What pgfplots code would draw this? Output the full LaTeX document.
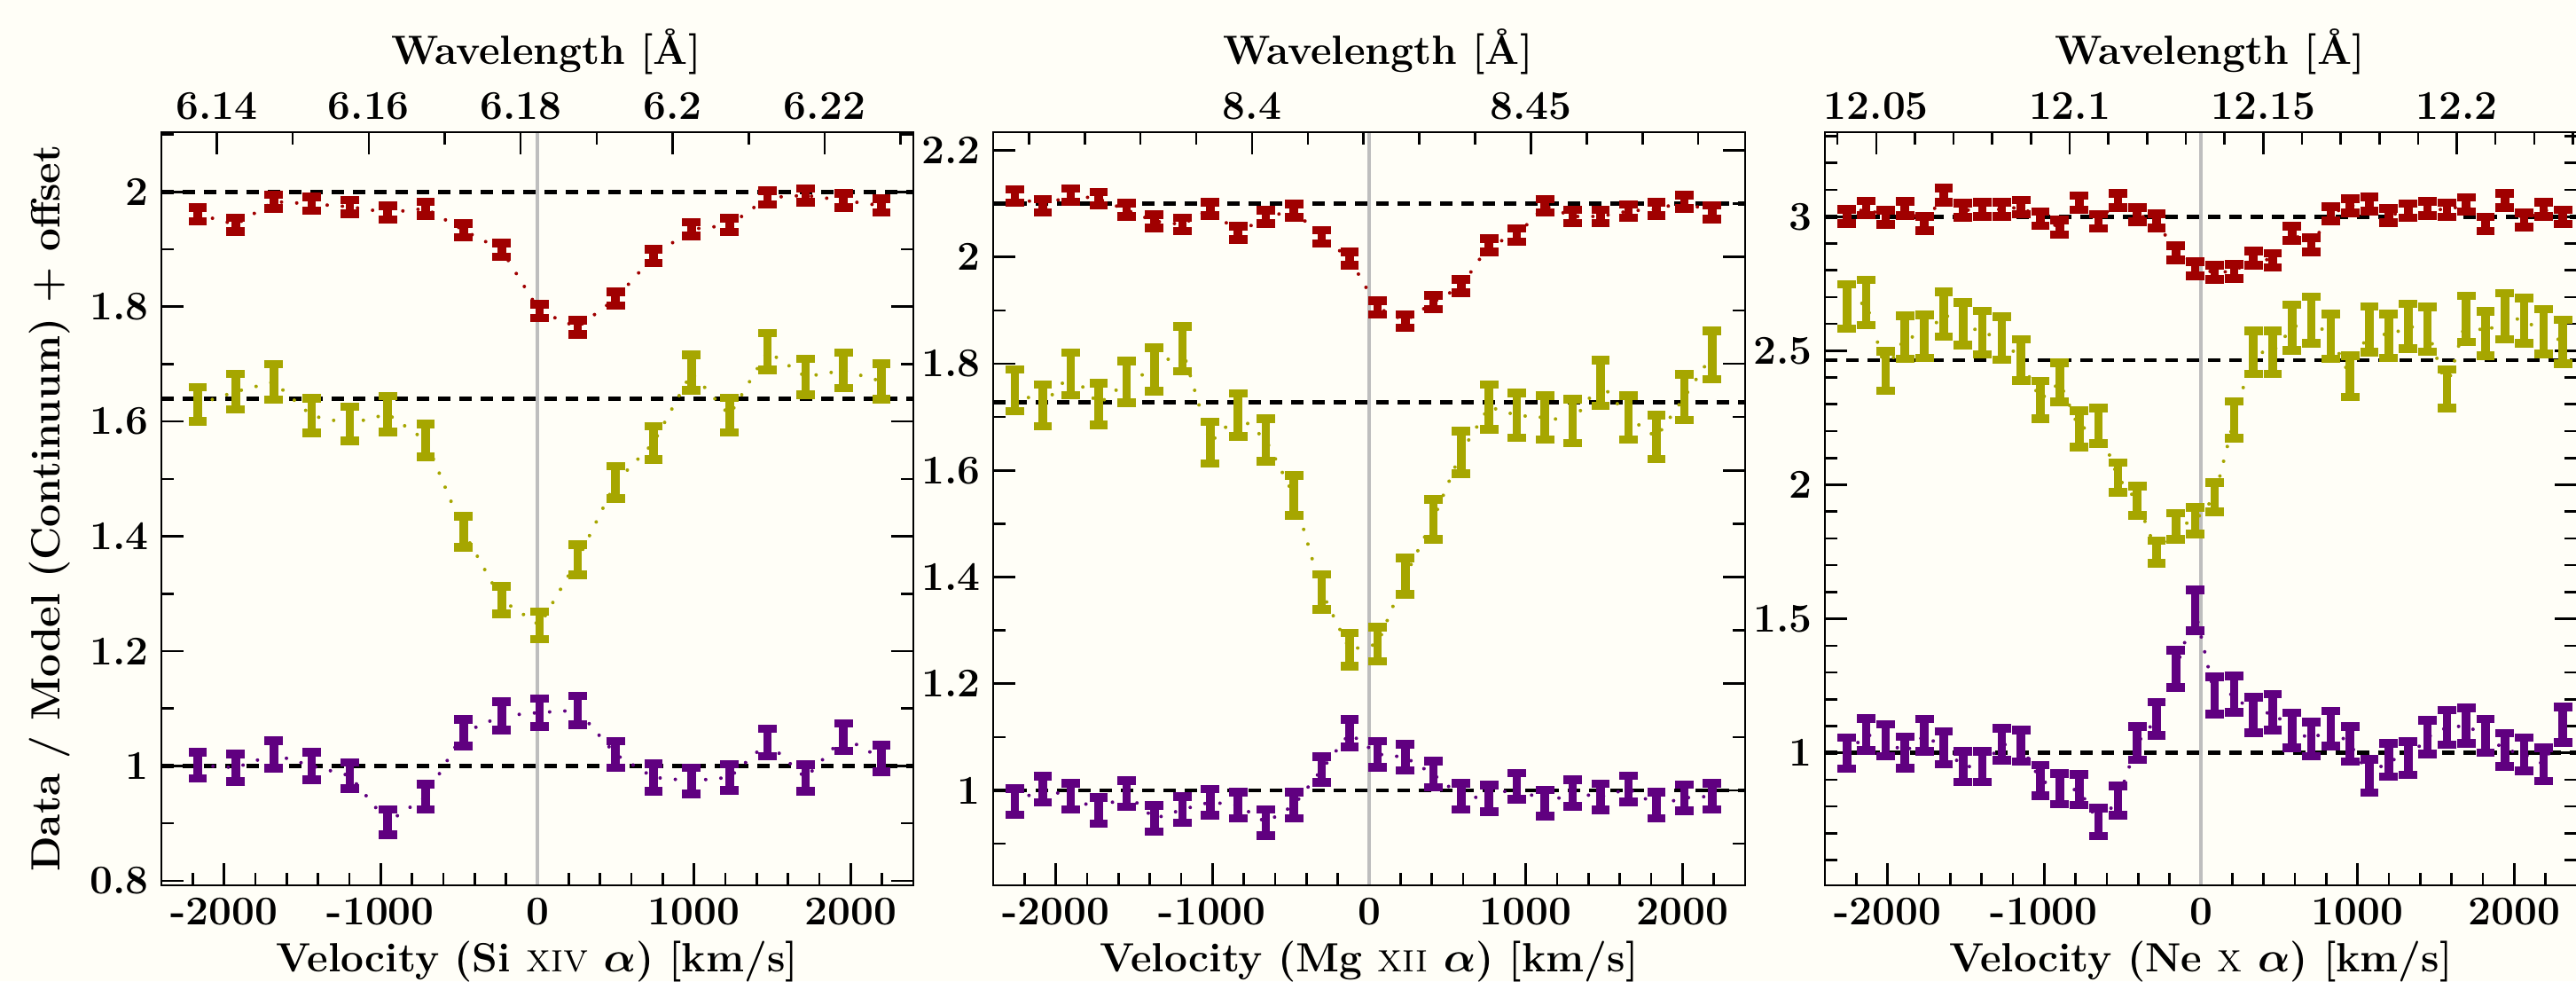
\documentclass[border=0pt]{standalone}
\usepackage{pgfplots}
\pgfplotsset{compat=1.18}
\usepackage{pgfplotstable}
\definecolor{cR}{RGB}{160,0,0}
\definecolor{cO}{RGB}{166,166,0}
\definecolor{cP}{RGB}{96,0,128}
\definecolor{bg}{RGB}{255,254,247}
\definecolor{zl}{RGB}{190,190,190}
\newcommand\lbl{\fontsize{11.5}{13.5}\selectfont\bfseries}

\pgfplotstableread{
v r er o eo p ep
-2167.6 1.961 0.012 1.630 0.030 1.001 0.023
-1925.2 1.943 0.012 1.652 0.031 0.997 0.024
-1682.7 1.983 0.012 1.669 0.031 1.020 0.024
-1440.3 1.979 0.012 1.610 0.030 1.000 0.024
-1197.8 1.974 0.012 1.596 0.030 0.983 0.023
-955.3 1.964 0.012 1.613 0.031 0.902 0.022
-712.9 1.971 0.012 1.567 0.029 0.946 0.022
-470.4 1.933 0.012 1.408 0.027 1.058 0.023
-228.0 1.899 0.012 1.289 0.024 1.087 0.025
14.5 1.792 0.012 1.245 0.024 1.093 0.024
257.0 1.764 0.012 1.359 0.026 1.097 0.025
499.4 1.814 0.012 1.494 0.028 1.020 0.023
741.9 1.888 0.012 1.563 0.029 0.980 0.024
984.3 1.935 0.012 1.685 0.031 0.974 0.023
1226.8 1.942 0.012 1.611 0.030 0.980 0.023
1469.3 1.990 0.012 1.722 0.032 1.041 0.024
1711.7 1.994 0.012 1.678 0.031 0.979 0.023
1954.2 1.985 0.012 1.689 0.031 1.050 0.024
2196.6 1.976 0.012 1.670 0.031 1.013 0.023
}\tA

\pgfplotstableread{
v r er o eo p ep
-2260.6 2.114 0.0125 1.750 0.039 0.979 0.0245
-2082.6 2.096 0.0125 1.722 0.039 1.002 0.0245
-1904.6 2.116 0.0125 1.781 0.040 0.989 0.0245
-1726.6 2.109 0.0125 1.724 0.039 0.962 0.0245
-1548.6 2.088 0.0125 1.766 0.039 0.994 0.0245
-1370.6 2.067 0.0125 1.789 0.041 0.947 0.0245
-1192.6 2.061 0.0125 1.828 0.042 0.964 0.0245
-1014.6 2.090 0.0125 1.652 0.039 0.978 0.0245
-836.6 2.045 0.0125 1.704 0.040 0.972 0.0245
-658.6 2.075 0.0125 1.657 0.040 0.940 0.0245
-480.6 2.087 0.0125 1.553 0.037 0.972 0.0245
-302.6 2.038 0.0125 1.372 0.033 1.039 0.0245
-124.6 1.997 0.0125 1.264 0.031 1.107 0.0257
53.4 1.905 0.0125 1.274 0.032 1.068 0.0245
231.4 1.880 0.0125 1.402 0.034 1.062 0.0245
409.4 1.915 0.0125 1.508 0.037 1.030 0.0245
587.4 1.945 0.0125 1.634 0.040 0.989 0.0245
765.4 2.022 0.0125 1.719 0.042 0.985 0.0245
943.4 2.041 0.0125 1.703 0.042 1.008 0.0245
1121.4 2.096 0.0125 1.699 0.041 0.976 0.0245
1299.4 2.076 0.0125 1.692 0.041 0.995 0.0245
1477.4 2.076 0.0125 1.764 0.043 0.988 0.0245
1655.4 2.086 0.0125 1.699 0.041 1.003 0.0245
1833.4 2.090 0.0125 1.662 0.041 0.972 0.0245
2011.4 2.103 0.0125 1.737 0.043 0.986 0.0245
2189.4 2.084 0.0125 1.816 0.045 0.989 0.0245
}\tB

\pgfplotstableread{
v r er o eo p ep
-2259.5 3.000 0.0265 2.665 0.083 0.999 0.058
-2136.0 3.032 0.0265 2.680 0.084 1.069 0.060
-2012.5 2.997 0.0265 2.424 0.074 1.047 0.060
-1889.0 3.031 0.0265 2.550 0.080 1.001 0.059
-1765.4 2.975 0.0265 2.553 0.080 1.066 0.060
-1641.9 3.080 0.0265 2.636 0.083 1.019 0.061
-1518.4 3.023 0.0265 2.600 0.080 0.949 0.057
-1394.8 3.028 0.0265 2.567 0.081 0.949 0.057
-1271.3 3.027 0.0265 2.547 0.080 1.032 0.060
-1147.8 3.036 0.0265 2.465 0.077 1.027 0.059
-1024.2 2.992 0.0265 2.317 0.070 0.898 0.057
-900.7 2.960 0.0265 2.382 0.073 0.866 0.057
-777.2 3.052 0.0265 2.209 0.068 0.862 0.057
-653.7 2.983 0.0265 2.220 0.067 0.742 0.0525
-530.1 3.060 0.0265 2.027 0.056 0.822 0.055
-406.6 3.007 0.0265 1.940 0.054 1.036 0.0615
-283.1 2.984 0.0265 1.749 0.042 1.127 0.062
-159.5 2.866 0.0265 1.845 0.049 1.313 0.070
-36.0 2.805 0.0265 1.866 0.050 1.531 0.076
87.5 2.793 0.0265 1.954 0.055 1.214 0.070
211.1 2.795 0.0265 2.242 0.069 1.219 0.0685
334.6 2.845 0.0265 2.494 0.080 1.141 0.0665
458.1 2.837 0.0265 2.494 0.080 1.152 0.0665
581.7 2.937 0.0265 2.586 0.085 1.084 0.065
705.2 2.894 0.0265 2.614 0.087 1.051 0.063
828.7 3.011 0.0265 2.553 0.0835 1.091 0.065
952.2 3.040 0.0265 2.405 0.077 1.033 0.065
1075.8 3.047 0.0265 2.580 0.085 0.914 0.062
1199.3 3.004 0.0265 2.555 0.082 0.973 0.062
1322.8 3.022 0.0265 2.591 0.0835 0.980 0.062
1446.3 3.030 0.0265 2.579 0.0835 1.058 0.063
1569.8 3.025 0.0265 2.358 0.072 1.095 0.065
1693.4 3.045 0.0265 2.619 0.086 1.101 0.0665
1816.9 2.973 0.0265 2.564 0.083 1.064 0.063
1940.4 3.061 0.0265 2.629 0.086 1.012 0.062
2064.0 2.987 0.0265 2.612 0.085 0.995 0.062
2187.5 3.027 0.0265 2.572 0.0835 0.957 0.062
2311.0 2.999 0.0265 2.533 0.082 1.105 0.0665
}\tC

\pgfplotsset{
  common/.style={
    scale only axis, width=212pt, height=212.25pt, anchor=south west,
    axis line style={line width=0.65pt},
    every tick/.style={black, line width=0.65pt},
    major tick length=6.25pt, minor tick length=3.5pt,
    tick align=inside,
    tick label style={font=\lbl},
    /pgf/number format/assume math mode=true,
    label style={font=\lbl},
  },
  panel/.style={
    common,
    xmin=-2400, xmax=2400,
    xtick pos=left, ytick pos=both, yticklabel pos=left,
    xtick={-2000,-1000,0,1000,2000},
    xticklabels={-2000,-1000,0,1000,2000},
    minor xtick={-2200,-1800,-1600,-1400,-1200,-800,-600,-400,-200,200,400,600,800,1200,1400,1600,1800,2200},
    xlabel style={at={(axis description cs:0.5,0)}, anchor=base, yshift=-24.25pt},
  },
  toppanel/.style={
    common,
    ymin=0, ymax=1, hide y axis,
    xtick pos=right, xticklabel pos=right,
    xlabel={Wavelength [\AA]},
    xlabel style={at={(axis description cs:0.5,1)}, anchor=base, yshift=19.2pt, xshift=2.5pt},
  },
}

\newcommand\series[4]{%
  \addplot[#2, line width=1pt, dash pattern=on 0pt off 4.3pt, line cap=round] table[x=v,y=#3]{#1};
  \addplot[#2, only marks, mark=*, mark size=0.8pt,
    error bars/.cd, y dir=both, y explicit,
    error bar style={line width=2.4pt, solid},
    error mark options={rotate=90, line width=2.4pt, mark size=2.6pt, solid}]
    table[x=v,y=#3,y error=#4]{#1};
}
\newcommand\refl[1]{%
  \addplot[black, line width=1.2pt, dash pattern=on 3.6pt off 2.4pt] coordinates {(-2400,#1) (2400,#1)};
}

\begin{document}
\begin{tikzpicture}
\fill[bg] (0,0) rectangle (726.25pt,276.5pt);
\useasboundingbox (0,0) rectangle (726.25pt,276.5pt);

\node[rotate=90, anchor=base, font=\lbl] at (16.75pt,133.25pt) {Data / Model (Continuum) + offset};

% ---------- Panel 1: Si XIV ----------
\begin{axis}[panel, at={(45.5pt,27pt)}, ymin=0.792, ymax=2.104,
  ytick={0.8,1,1.2,1.4,1.6,1.8,2},
  minor ytick={0.9,1.1,1.3,1.5,1.7,1.9,2.1},
  xlabel={Velocity (Si {\mdseries\scshape xiv} {\boldmath$\alpha$}) [km/s]}]
  \addplot[zl, line width=0.8pt] coordinates {(0,0) (0,3)};
  \refl{2}\refl{1.64}\refl{1}
  \series{\tA}{cR}{r}{er}
  \series{\tA}{cO}{o}{eo}
  \series{\tA}{cP}{p}{ep}
\end{axis}
\begin{axis}[toppanel, at={(45.5pt,27pt)}, xmin=6.13271, xmax=6.23169,
  xtick={6.14,6.16,6.18,6.2,6.22}, xticklabels={6.14,6.16,6.18,6.2,6.22},
  minor xtick={6.15,6.17,6.19,6.21,6.23}]
\end{axis}

% ---------- Panel 2: Mg XII ----------
\begin{axis}[panel, at={(280pt,27pt)}, ymin=0.822, ymax=2.234,
  ytick={1,1.2,1.4,1.6,1.8,2,2.2},
  minor ytick={0.9,1.1,1.3,1.5,1.7,1.9,2.1},
  xlabel={Velocity (Mg {\mdseries\scshape xii} {\boldmath$\alpha$}) [km/s]}]
  \addplot[zl, line width=0.8pt] coordinates {(0,0) (0,3)};
  \refl{2.1}\refl{1.727}\refl{1}
  \series{\tB}{cR}{r}{er}
  \series{\tB}{cO}{o}{eo}
  \series{\tB}{cP}{p}{ep}
\end{axis}
\begin{axis}[toppanel, at={(280pt,27pt)}, xmin=8.35359, xmax=8.48841,
  xtick={8.4,8.45}, xticklabels={8.4,8.45},
  minor xtick={8.36,8.37,8.38,8.39,8.41,8.42,8.43,8.44,8.46,8.47,8.48}]
\end{axis}

% ---------- Panel 3: Ne X ----------
\begin{axis}[panel, at={(514.5pt,27pt)}, ymin=0.506, ymax=3.315,
  ytick={1,1.5,2,2.5,3},
  minor ytick={0.6,0.7,0.8,0.9,1.1,1.2,1.3,1.4,1.6,1.7,1.8,1.9,2.1,2.2,2.3,2.4,2.6,2.7,2.8,2.9,3.1,3.2,3.3},
  xlabel={Velocity (Ne {\mdseries\scshape x} {\boldmath$\alpha$}) [km/s]}]
  \addplot[zl, line width=0.8pt] coordinates {(0,0) (0,4)};
  \refl{3}\refl{2.465}\refl{1}
  \series{\tC}{cR}{r}{er}
  \series{\tC}{cO}{o}{eo}
  \series{\tC}{cP}{p}{ep}
\end{axis}
\begin{axis}[toppanel, at={(514.5pt,27pt)}, xmin=12.03676, xmax=12.23104,
  xtick={12.05,12.1,12.15,12.2}, xticklabels={12.05,12.1,12.15,12.2},
  minor xtick={12.04,12.06,12.07,12.08,12.09,12.11,12.12,12.13,12.14,12.16,12.17,12.18,12.19,12.21,12.22,12.23}]
\end{axis}
\end{tikzpicture}
\end{document}
